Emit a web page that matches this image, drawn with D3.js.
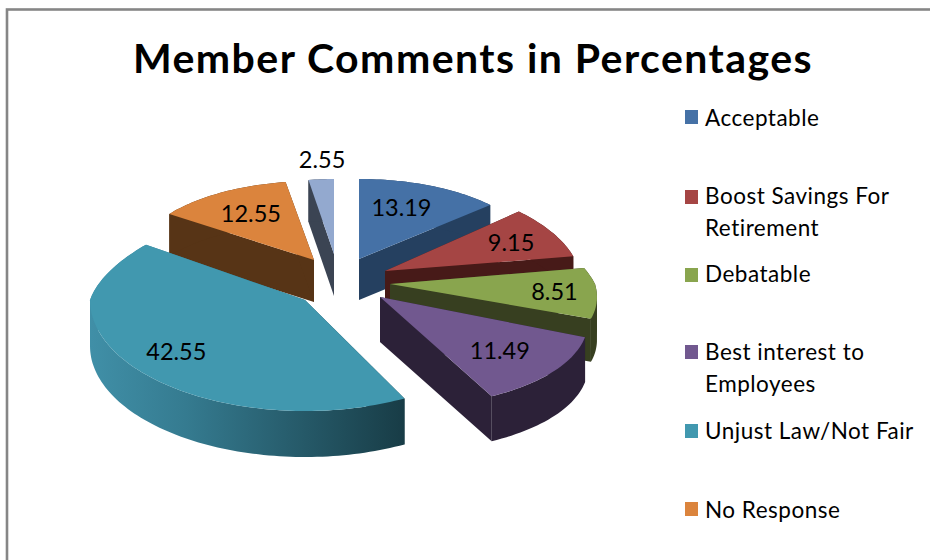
<!DOCTYPE html>
<html><head><meta charset="utf-8">
<script src="https://cdn.jsdelivr.net/npm/d3@7/dist/d3.min.js"></script>
<style>html,body{margin:0;padding:0;background:#fff}svg{display:block}text{font-family:Lato,"Open Sans",sans-serif;fill:#000}</style>
</head><body><svg id="c" width="930" height="560"></svg>
<script>
// data
const sliceNames = ["Acceptable","Boost Savings For Retirement","Debatable","Best interest to Employees","Unjust Law/Not Fair","No Response","Other"];
const sliceValues = [13.19,9.15,8.51,11.49,42.55,12.55,2.55];
const valueLabels = ["13.19","9.15","8.51","11.49","42.55","12.55","2.55"];
const legendLines = [["Acceptable"],["Boost Savings For","Retirement"],["Debatable"],["Best interest to","Employees"],["Unjust Law/Not Fair"],["No Response"]];
const topColors = ["#4571a6","#a54544","#89a54e","#71588f","#4198af","#db843d","#93a9cf"];
const wallColors = ["#254060","#471a18","#373f20","#2c2138","url(#tealWall)","#573416","#3b4453"];
const titleText = "Member Comments in Percentages";

// layout (perspective-ish 3D pie: each exploded slice has its own offset and radii)
const center = {x:340,y:280};
const sliceLayout = [
 {dx:19, dy:-21,rx:178,ryB:80, ryF:80, depth:41,taper:0,    flare:0,   lx:-2, ly:-6},
 {dx:45, dy:-9, rx:194,ryB:88, ryF:88, depth:42,taper:0.095,flare:0,   lx:18, ly:-4},
 {dx:50, dy:4,  rx:205,ryB:97, ryF:97, depth:43,taper:0.24, flare:0.14,lx:38, ly:2},
 {dx:40, dy:17, rx:205,ryB:112,ryF:112,depth:45,taper:0,    flare:0.2, lx:25, ly:8},
 {dx:-35,dy:20, rx:215,ryB:95, ryF:111,depth:46,taper:0.155,flare:0,   lx:-28,ly:7},
 {dx:-26,dy:-20,rx:178,ryB:79, ryF:79, depth:42,taper:0,    flare:0,   lx:-5, ly:-5},
 {dx:-6, dy:-26,rx:160,ryB:75, ryF:75, depth:42,taper:0,    flare:0,   lx:-4, ly:-48}
];
const drawOrder = [6,5,0,1,2,3,4];
const legendRows = [{sw:110,base:[126]},{sw:190,base:[204,236]},{sw:268,base:[282]},{sw:345,base:[360,392]},{sw:424,base:[439]},{sw:502,base:[518]}];

const svg = d3.select("#c");
const defs = svg.append("defs");
const g = defs.append("linearGradient").attr("id","tealWall").attr("gradientUnits","userSpaceOnUse")
  .attr("x1",91).attr("x2",405).attr("y1",0).attr("y2",0);
g.append("stop").attr("offset",0).attr("stop-color","#408fa7");
g.append("stop").attr("offset",0.3).attr("stop-color","#357b90");
g.append("stop").attr("offset",1).attr("stop-color","#183c46");

svg.append("rect").attr("width",930).attr("height",560).attr("fill","#fff");
svg.append("rect").attr("x",7).attr("y",9.5).attr("width",1000).attr("height",1000)
  .attr("fill","none").attr("stroke","#868686").attr("stroke-width",2.6);

svg.append("text").attr("x",473).attr("y",73).attr("text-anchor","middle")
  .attr("font-size",41).attr("font-weight",700).attr("letter-spacing",1.45).text(titleText);

const arcs = d3.pie().sort(null).value(d=>d)(sliceValues);
const line = d3.line().x(d=>d[0]).y(d=>d[1]);

function pt(L,a,ax,ay){
  const c=Math.cos(a), s=Math.sin(a);
  const f=c>0?1-L.taper*c:1-L.flare*c;
  return [ax+L.rx*s*f, ay-(c>0?L.ryB:L.ryF)*c];
}
// split a rim wherever its horizontal direction reverses, so extruded strips never fold
function monotoneRuns(rim){
  const runs=[]; let run=[rim[0]], dir=0;
  for(let k=1;k<rim.length;k++){
    const d=Math.sign(rim[k][0]-rim[k-1][0]);
    if(dir&&d&&d!==dir){runs.push(run);run=[rim[k-1]];}
    if(d)dir=d;
    run.push(rim[k]);
  }
  runs.push(run);
  return runs;
}
drawOrder.forEach(i=>{
  const A=arcs[i], L=sliceLayout[i], ax=center.x+L.dx, ay=center.y+L.dy;
  const n=Math.max(8,Math.ceil((A.endAngle-A.startAngle)*40));
  const rim=d3.range(n+1).map(k=>pt(L,A.startAngle+(A.endAngle-A.startAngle)*k/n,ax,ay));
  const down=p=>[p[0],p[1]+L.depth];
  const apex=[ax,ay];
  const node=svg.append("g").attr("class","slice");
  // walls: the two cut faces and the outer rim
  const walls=[
    [apex,rim[0],down(rim[0]),down(apex)],
    [apex,rim[n],down(rim[n]),down(apex)],
    ...monotoneRuns(rim).map(r=>[...r,...r.map(down).reverse()])
  ];
  walls.forEach(w=>node.append("path").attr("d",line(w)+"Z").attr("fill",wallColors[i]));
  node.append("path").attr("d",line([apex,...rim])+"Z").attr("fill",topColors[i]);
});

arcs.forEach((A,i)=>{
  const L=sliceLayout[i], ax=center.x+L.dx, ay=center.y+L.dy, mid=(A.startAngle+A.endAngle)/2;
  const c=Math.cos(mid), s=Math.sin(mid);
  const x=ax+0.62*L.rx*s+L.lx, y=ay-0.62*(c>0?L.ryB:L.ryF)*c+L.ly;
  svg.append("text").attr("x",x).attr("y",y).attr("dy","0.35em").attr("text-anchor","middle")
    .attr("font-size",23.5).text(valueLabels[i]);
});

legendLines.forEach((lines,i)=>{
  const R=legendRows[i];
  svg.append("rect").attr("x",685).attr("y",R.sw).attr("width",13).attr("height",14).attr("fill",topColors[i]);
  lines.forEach((t,k)=>svg.append("text").attr("x",705).attr("y",R.base[k])
    .attr("font-size",22.5).attr("letter-spacing",0.5).text(t));
});
</script></body></html>
